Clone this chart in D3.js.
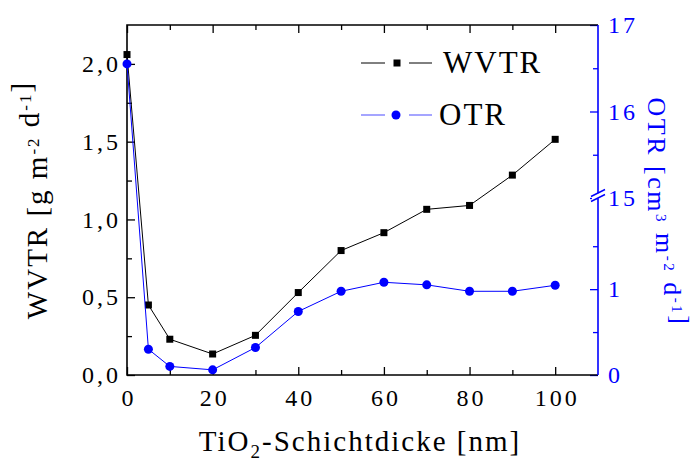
<!DOCTYPE html>
<html>
<head>
<meta charset="utf-8">
<script src="https://cdn.jsdelivr.net/npm/d3@7"></script>
<style>
  body { margin: 0; background: #fff; }
  svg text { font-family: "Liberation Serif", "DejaVu Serif", serif !important; }
</style>
</head>
<body>
<div id="chart"></div>
<script>
// TiO2 layer thickness [nm]
const thickness = [0, 5, 10, 20, 30, 40, 50, 60, 70, 80, 90, 100];
// water vapour transmission rate [g m^-2 d^-1]
const wvtr = [2.06, 0.45, 0.23, 0.135, 0.255, 0.53, 0.80, 0.915, 1.065, 1.09, 1.285, 1.515];
// oxygen transmission rate [cm^3 m^-2 d^-1]
const otr = [16.55, 0.30, 0.10, 0.06, 0.32, 0.74, 0.975, 1.08, 1.05, 0.975, 0.975, 1.045];

const xTicks = [0, 20, 40, 60, 80, 100];
const xMinor = [10, 30, 50, 70, 90];
const yLeftTicks = [0, 0.5, 1.0, 1.5, 2.0];
const yLeftMinor = [0.25, 0.75, 1.25, 1.75];
const yRightTicks = [0, 1, 15, 16, 17];
const yRightMinor = [0.5, 1.5, 15.5, 16.5];

const width = 690, height = 461;
const margin = { top: 25, right: 92, bottom: 86, left: 127 };
const blue = "#0000ff";
const serif = "Liberation Serif";

const svg = d3.select("#chart").append("svg")
    .attr("width", width)
    .attr("height", height)
    .attr("font-family", serif);

const x = d3.scaleLinear().domain([0, 110]).range([margin.left, width - margin.right]);
const yL = d3.scaleLinear().domain([0, 2.25]).range([height - margin.bottom, margin.top]);
// broken right axis: 0..2.05 below the break, 15..17 above
const yR = d3.scaleLinear().domain([0, 2.05, 15, 17]).range([height - margin.bottom, 199, 198, margin.top]);

const comma = d3.formatLocale({ decimal: ",", thousands: ".", grouping: [3], currency: ["", ""] }).format(".1f");

function styleAxis(g, color, fontSize, spacing) {
    g.attr("font-family", serif);
    g.select(".domain").remove();
    g.selectAll(".tick line").attr("stroke", color).attr("stroke-width", 1.3);
    g.selectAll(".tick text")
        .attr("fill", color)
        .attr("font-family", serif)
        .style("font-size", fontSize + "px")
        .style("letter-spacing", spacing + "px");
}

// x axis, bottom
svg.append("g")
    .attr("transform", `translate(0,${height - margin.bottom})`)
    .call(d3.axisBottom(x).tickValues(xTicks).tickSizeInner(-8).tickSizeOuter(0).tickPadding(14))
    .call(g => styleAxis(g, "#000", 24, 3))
    .call(g => g.selectAll(".tick text").attr("dx", "1.5px"));
svg.append("g")
    .attr("transform", `translate(0,${height - margin.bottom})`)
    .call(d3.axisBottom(x).tickValues(xMinor).tickSizeInner(-5).tickSizeOuter(0).tickFormat(""))
    .call(g => styleAxis(g, "#000", 24, 3));

// x axis, top (ticks only)
svg.append("g")
    .attr("transform", `translate(0,${margin.top})`)
    .call(d3.axisTop(x).tickValues(xTicks).tickSizeInner(-8).tickSizeOuter(0).tickFormat(""))
    .call(g => styleAxis(g, "#000", 24, 3));
svg.append("g")
    .attr("transform", `translate(0,${margin.top})`)
    .call(d3.axisTop(x).tickValues(xMinor).tickSizeInner(-5).tickSizeOuter(0).tickFormat(""))
    .call(g => styleAxis(g, "#000", 24, 3));

// left axis
svg.append("g")
    .attr("transform", `translate(${margin.left},0)`)
    .call(d3.axisLeft(yL).tickValues(yLeftTicks).tickSizeInner(-8).tickSizeOuter(0).tickPadding(6).tickFormat(comma))
    .call(g => styleAxis(g, "#000", 24, 3));
svg.append("g")
    .attr("transform", `translate(${margin.left},0)`)
    .call(d3.axisLeft(yL).tickValues(yLeftMinor).tickSizeInner(-5).tickSizeOuter(0).tickFormat(""))
    .call(g => styleAxis(g, "#000", 24, 3));

// right axis (OTR, blue)
const xr = width - margin.right;
svg.append("g")
    .attr("transform", `translate(${xr},0)`)
    .call(d3.axisRight(yR).tickValues(yRightTicks).tickSizeInner(-8).tickSizeOuter(0).tickPadding(10).tickFormat(d3.format("d")))
    .call(g => styleAxis(g, blue, 24, 3));
svg.append("g")
    .attr("transform", `translate(${xr},0)`)
    .call(d3.axisRight(yR).tickValues(yRightMinor).tickSizeInner(-5).tickSizeOuter(0).tickFormat(""))
    .call(g => styleAxis(g, blue, 24, 3));

// frame
const x0 = margin.left, y0 = height - margin.bottom, y1 = margin.top;
svg.append("path").attr("d", `M${xr},${y1}H${x0}V${y0}H${xr}`)
    .attr("fill", "none").attr("stroke", "#000").attr("stroke-width", 1.6);
svg.append("line").attr("x1", xr).attr("x2", xr).attr("y1", y1).attr("y2", y0)
    .attr("stroke", blue).attr("stroke-width", 1.6);

// axis break marks
const yb = (yR(2.05) + yR(15)) / 2;
svg.append("path")
    .attr("d", `M${xr - 6},${yb - 2}L${xr + 6},${yb - 8}L${xr + 6},${yb - 3}L${xr - 6},${yb + 3}Z`)
    .attr("fill", "#fff");
[-5, 0].forEach(o => {
    svg.append("line")
        .attr("x1", xr - 7).attr("y1", yb + o + 3)
        .attr("x2", xr + 7).attr("y2", yb + o - 4)
        .attr("stroke", blue).attr("stroke-width", 1.4);
});

// series
const wvtrData = thickness.map((t, i) => [t, wvtr[i]]);
const otrData = thickness.map((t, i) => [t, otr[i]]);

const plot = svg.append("g");
plot.append("path")
    .datum(wvtrData)
    .attr("fill", "none")
    .attr("stroke", "#000")
    .attr("stroke-width", 1)
    .attr("d", d3.line().x(d => x(d[0])).y(d => yL(d[1])));
plot.selectAll(".sq")
    .data(wvtrData)
    .enter().append("rect")
    .attr("class", "sq")
    .attr("x", d => x(d[0]) - 3.5)
    .attr("y", d => yL(d[1]) - 3.5)
    .attr("width", 7)
    .attr("height", 7)
    .attr("fill", "#000");

plot.append("path")
    .datum(otrData)
    .attr("fill", "none")
    .attr("stroke", blue)
    .attr("stroke-width", 1)
    .attr("d", d3.line().x(d => x(d[0])).y(d => yR(d[1])));
plot.selectAll(".dot")
    .data(otrData)
    .enter().append("circle")
    .attr("class", "dot")
    .attr("cx", d => x(d[0]))
    .attr("cy", d => yR(d[1]))
    .attr("r", 4.5)
    .attr("fill", blue);

// legend
const legend = svg.append("g");
const legendItems = [
    { name: "WVTR", color: "#000", shape: "square", y: 63 },
    { name: "OTR", color: blue, shape: "circle", y: 115 }
];
legendItems.forEach(it => {
    legend.append("line").attr("x1", 361).attr("x2", 385).attr("y1", it.y).attr("y2", it.y)
        .attr("stroke", it.color).attr("stroke-width", 1).attr("opacity", it.shape === "circle" ? 0.7 : 1);
    legend.append("line").attr("x1", 409).attr("x2", 432).attr("y1", it.y).attr("y2", it.y)
        .attr("stroke", it.color).attr("stroke-width", 1).attr("opacity", it.shape === "circle" ? 0.7 : 1);
    if (it.shape === "square") {
        legend.append("rect").attr("x", 397 - 3.5).attr("y", it.y - 3.5).attr("width", 7).attr("height", 7).attr("fill", it.color);
    } else {
        legend.append("circle").attr("cx", 396).attr("cy", it.y).attr("r", 4.5).attr("fill", it.color);
    }
    legend.append("text")
        .attr("x", it.shape === "square" ? 443 : 439)
        .attr("y", it.y + 10)
        .style("font-size", "31px")
        .style("letter-spacing", "2px")
        .attr("fill", "#000")
        .text(it.name);
});

// axis titles
const xTitle = svg.append("text")
    .attr("x", 360)
    .attr("y", 451)
    .attr("text-anchor", "middle")
    .style("font-size", "29px")
    .style("letter-spacing", "2px");
xTitle.append("tspan").text("TiO");
xTitle.append("tspan").attr("dy", 7).style("font-size", "19px").text("2");
xTitle.append("tspan").attr("dy", -7).text("-Schichtdicke [nm]");

function titleWithSups(sel, parts, fs) {
    parts.forEach(p => {
        if (p.sup) {
            sel.append("tspan").attr("dy", -8).style("font-size", fs + "px").text(p.sup);
            sel.append("tspan").attr("dy", 8).text("");
        } else {
            sel.append("tspan").text(p.t);
        }
    });
}

const yLTitle = svg.append("text")
    .attr("transform", "translate(47,200) rotate(-90)")
    .attr("text-anchor", "middle")
    .style("font-size", "29px")
    .style("letter-spacing", "2px")
    .attr("fill", "#000");
titleWithSups(yLTitle, [{ t: "WVTR [g m" }, { sup: "-2" }, { t: " d" }, { sup: "-1" }, { t: "]" }], 17);

const yRTitle = svg.append("text")
    .attr("transform", "translate(648,212) rotate(90)")
    .attr("text-anchor", "middle")
    .style("font-size", "26px")
    .style("letter-spacing", "2.5px")
    .attr("fill", blue);
titleWithSups(yRTitle, [{ t: "OTR [cm" }, { sup: "3" }, { t: " m" }, { sup: "-2" }, { t: " d" }, { sup: "-1" }, { t: "]" }], 15);
</script>
</body>
</html>
